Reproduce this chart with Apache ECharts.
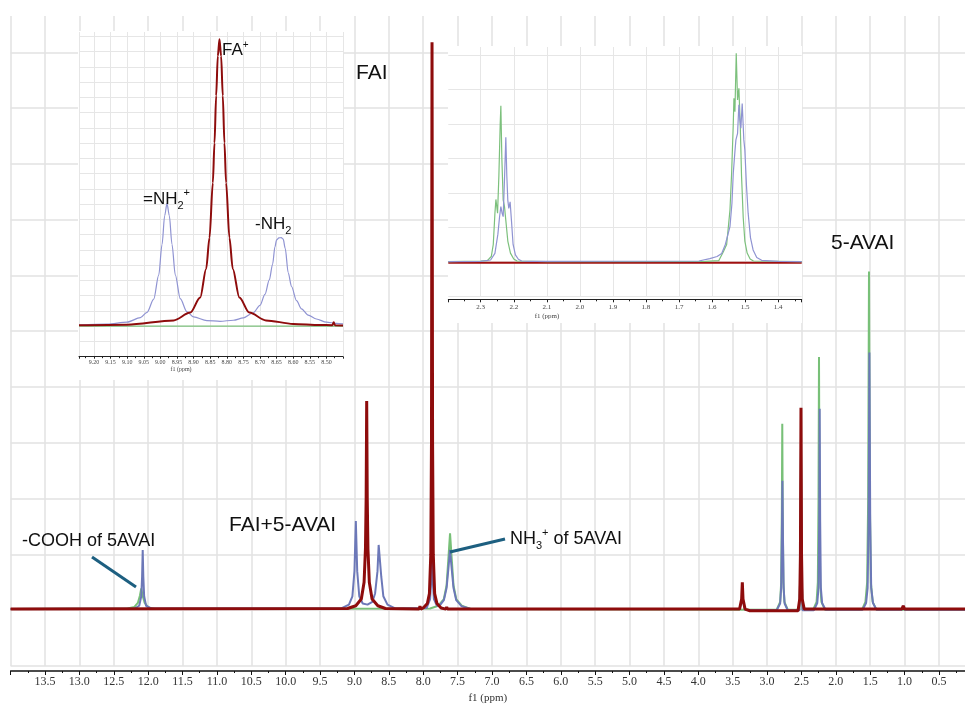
<!DOCTYPE html>
<html>
<head>
<meta charset="utf-8">
<title>1H NMR FAI / 5-AVAI</title>
<script src="https://cdn.jsdelivr.net/npm/echarts/dist/echarts.min.js"></script>
<style>
  html, body { margin: 0; padding: 0; background: #fff; }
  #chart { width: 965px; height: 704px; }
</style>
</head>
<body>
<div id="chart"></div>
<script>
// 主谱图 [ppm, 强度]，强度单位：一格网格 = 10
const mainGreen = [ // 5-AVAI
  [14.0,0.2],[12.30,0.3],[12.20,0.6],[12.15,1.3],[12.12,2.6],[12.10,3.9],[12.08,2.6],[12.05,1.3],[12.00,0.5],[11.90,0.2],
  [7.90,0.3],[7.78,0.8],[7.70,2.0],[7.66,4.5],[7.63,10.0],[7.61,13.8],[7.59,10.0],[7.56,4.5],[7.52,2.0],[7.44,0.8],[7.30,0.2],
  [2.86,0.1],[2.81,1.5],[2.795,5],[2.785,18],[2.779,33.4],[2.773,18],[2.763,5],[2.748,1.5],[2.70,0.1],
  [2.53,0.1],[2.515,8],[2.507,29],[2.499,8],[2.485,0.1],
  [2.33,0.1],[2.28,1.5],[2.262,5],[2.252,20],[2.245,45.4],[2.238,20],[2.228,5],[2.21,1.5],[2.16,0.1],
  [1.62,0.1],[1.57,1.5],[1.545,5],[1.530,20],[1.518,60.7],[1.506,20],[1.491,5],[1.465,1.5],[1.41,0.1],
  [0.12,0.1]
];
const mainBlue = [ // FAI+5-AVAI
  [14.0,0.2],[12.20,0.3],[12.13,0.8],[12.10,2.5],[12.088,6],[12.079,10.8],[12.07,6],[12.058,2.5],[12.03,0.8],[11.95,0.3],
  [9.20,0.3],[9.08,1.0],[9.03,2.5],[9.00,7],[8.98,16],[8.96,7],[8.93,2.5],[8.88,1.2],[8.81,1.0],[8.74,1.5],[8.70,3],
  [8.665,7],[8.648,11.7],[8.632,11.5],[8.61,6],[8.58,2.5],[8.52,1.0],[8.40,0.3],
  [7.95,0.4],[7.90,2],[7.885,5],[7.872,9.6],[7.86,5],[7.845,2],[7.80,0.8],
  [7.75,1.0],[7.70,1.8],[7.66,4],[7.63,8],[7.611,10.8],[7.59,8],[7.56,4],[7.52,1.8],[7.44,0.7],[7.30,0.2],
  [3.40,0.2],[3.37,1.5],[3.36,2.7],[3.35,1.5],[3.32,0.1],
  [2.86,0.0],[2.81,1.2],[2.795,4],[2.785,13],[2.777,23.2],[2.769,13],[2.759,4],[2.745,1.2],[2.70,0.0],
  [2.53,0.0],[2.515,8],[2.507,29],[2.499,8],[2.485,0.0],
  [2.32,0.0],[2.27,1.3],[2.252,4],[2.242,16],[2.235,36.1],[2.228,16],[2.218,4],[2.20,1.3],[2.15,0.1],
  [1.61,0.1],[1.56,1.3],[1.538,4],[1.524,16],[1.512,46.2],[1.500,16],[1.486,4],[1.46,1.3],[1.41,0.1],
  [1.04,0.1],[1.02,0.8],[1.00,0.1],[0.12,0.1]
];
const mainRed = [ // FAI
  [14.0,0.2],[9.10,0.3],[8.98,0.8],[8.90,2],[8.86,5],[8.84,11],[8.83,20],[8.822,37.5],[8.814,20],[8.804,11],[8.784,5],[8.744,2],[8.66,0.8],[8.55,0.3],
  [8.06,0.2],[8.047,0.7],[8.035,0.2],
  [8.00,0.4],[7.94,1.2],[7.91,3],[7.89,10],[7.88,30],[7.872,101.8],[7.864,30],[7.854,10],[7.834,3],[7.80,1.2],[7.74,0.4],
  [7.67,0.2],[7.659,0.6],[7.648,0.2],
  [3.40,0.2],[3.37,2],[3.36,5],[3.35,2],[3.32,0.2],[3.25,-0.1],
  [2.55,-0.1],[2.525,2],[2.515,10],[2.507,36.3],[2.499,10],[2.489,2],[2.46,0.2],
  [1.04,0.2],[1.02,0.8],[1.00,0.2],[0.12,0.2]
];

// 左上插图 8.45-9.25 ppm
const in1Green = [[9.245,0],[8.45,0]];
const in1Blue = [
  [9.245,0.7],[9.16,1.4],[9.10,2.7],[9.06,5.6],[9.04,9.1],[9.02,17.7],[9.005,33.4],[8.995,53.4],[8.987,72.4],[8.980,80.5],
  [8.973,72.4],[8.965,53.6],[8.955,33.6],[8.94,18],[8.92,9.5],[8.90,6.1],[8.86,3.7],[8.82,3.2],[8.78,3.9],[8.75,5.4],
  [8.72,8.8],[8.70,13.7],[8.685,20.8],[8.672,30.3],[8.662,40.6],[8.655,52],[8.650,56.5],[8.643,57.9],[8.636,58],[8.630,57],
  [8.624,51],[8.615,35],[8.605,26],[8.59,16.8],[8.575,11.4],[8.555,7.3],[8.53,4.7],[8.50,2.6],[8.47,1.9],[8.45,1.5]
];
const in1Red = [
  [9.245,0.6],[9.10,1.0],[8.96,3.8],[8.91,8.9],[8.88,18.8],[8.862,37.7],[8.852,58],[8.842,94],[8.837,120],[8.832,151],
  [8.827,177],[8.822,188],[8.817,177],[8.812,151],[8.807,120],[8.802,94],[8.792,58],[8.782,37.7],[8.762,18.8],[8.732,8.9],
  [8.682,3.8],[8.60,1.5],[8.52,0.8],[8.482,0.6],[8.478,2.5],[8.474,0.6],[8.45,0.5]
];

// 右上插图 1.33-2.4 ppm
const in2Green = [
  [2.398,0],[2.30,0.2],[2.28,0.3],[2.268,1.5],[2.262,5],[2.257,14],[2.254,18.1],[2.249,14.1],[2.245,25],[2.241,40],[2.239,45.3],
  [2.236,30],[2.232,18],[2.228,16],[2.224,12],[2.218,6],[2.21,2.5],[2.20,0.8],[2.19,0.2],[2.10,0],
  [1.62,0.1],[1.58,0.3],[1.566,2.9],[1.556,5],[1.546,15],[1.541,25.7],[1.536,40],[1.534,47.5],[1.531,43.6],[1.527,60.6],
  [1.523,47],[1.519,50.4],[1.515,40],[1.511,25],[1.506,13],[1.501,6],[1.494,2.5],[1.485,0.8],[1.475,0.2],[1.329,0]
];
const in2Blue = [
  [2.398,0],[2.30,0.1],[2.27,0.5],[2.257,2.4],[2.248,8],[2.243,13],[2.239,16],[2.235,14],[2.232,13.1],[2.228,24],[2.224,36.2],
  [2.221,25],[2.218,17.9],[2.215,15.5],[2.211,17.4],[2.207,12],[2.202,5],[2.195,2],[2.186,0.7],[2.176,0.2],[2.15,0.1],
  [1.64,0.2],[1.607,0.9],[1.585,1.5],[1.571,2.4],[1.56,5],[1.546,10.2],[1.54,17],[1.536,25.7],[1.531,32],[1.528,35.4],
  [1.523,37.3],[1.519,45.6],[1.516,41.2],[1.513,38.8],[1.509,46],[1.504,35.4],[1.501,32.5],[1.496,22],[1.491,14.1],
  [1.484,7],[1.476,3.4],[1.465,1.2],[1.45,0.4],[1.40,0.1],[1.329,0]
];
const in2Red = [[2.398,-0.3],[1.329,-0.3]];

const RED = '#8e0c0c', BLUE = '#6c78b8', GREEN = '#78c078';
const BLUE_IN = '#8f93d2', GREEN_IN = '#7cc07c';
const GRID_C = '#e2e2e2';
const serif = 'Liberation Serif';
const sans = 'Liberation Sans';

const chart = echarts.init(document.getElementById('chart'));

function lineSeries(name, data, xi, color, width, z, zlevel, smooth) {
  return {
    name: name, type: 'line', xAxisIndex: xi, yAxisIndex: xi, data: data,
    showSymbol: false, smooth: smooth || false, smoothMonotone: 'x',
    lineStyle: { color: color, width: width }, z: z, zlevel: zlevel, silent: true
  };
}

const option = {
  animation: false,
  backgroundColor: '#fff',
  grid: [
    { left: 10.6, right: 0, top: 16, bottom: 38, containLabel: false, outerBoundsMode: 'none' },
    { left: 79, width: 264, top: 32, bottom: 704 - 356.7, containLabel: false, outerBoundsMode: 'none' },
    { left: 448.3, width: 353.4, top: 47, bottom: 704 - 296.1, containLabel: false, outerBoundsMode: 'none' }
  ],
  xAxis: [
    {
      type: 'value', gridIndex: 0, inverse: true, min: 0.122, max: 14, minInterval: 0.5, maxInterval: 0.5, offset: 5,
      name: 'f1 (ppm)', nameLocation: 'middle', nameGap: 22,
      nameTextStyle: { fontFamily: serif, fontSize: 11, color: '#333' },
      axisLine: { onZero: false, lineStyle: { color: '#111', width: 1.5 } },
      axisTick: { length: 4, lineStyle: { color: '#111' } },
      minorTick: { show: true, splitNumber: 2, length: 2, lineStyle: { color: '#111' } },
      axisLabel: { formatter: v => v.toFixed(1), fontFamily: serif, fontSize: 12, color: '#333', margin: 5,
                   showMinLabel: false, showMaxLabel: false },
      splitLine: { show: true, showMinLine: false, lineStyle: { color: GRID_C, width: 1.5 } }
    },
    {
      type: 'value', gridIndex: 1, inverse: true, min: 8.45, max: 9.245, interval: 0.05,
      zlevel: 1, z: 1,
      axisLine: { onZero: false, lineStyle: { color: '#222', width: 1 } },
      axisTick: { length: 2, lineStyle: { color: '#222' } },
      minorTick: { show: true, splitNumber: 2, length: 1.5, lineStyle: { color: '#222' } },
      axisLabel: { formatter: v => v.toFixed(2), fontFamily: serif, fontSize: 6, color: '#444', margin: 3,
                   showMinLabel: false, showMaxLabel: false },
      splitLine: { show: true, lineStyle: { color: '#e6e6e6', width: 1 } }
    },
    {
      type: 'value', gridIndex: 2, inverse: true, min: 1.329, max: 2.398, minInterval: 0.1, maxInterval: 0.1, offset: 3.2,
      zlevel: 1, z: 1,
      axisLine: { onZero: false, lineStyle: { color: '#222', width: 1 } },
      axisTick: { length: 3, lineStyle: { color: '#222' } },
      minorTick: { show: true, splitNumber: 2, length: 2, lineStyle: { color: '#222' } },
      axisLabel: { formatter: v => v.toFixed(1), fontFamily: serif, fontSize: 7, color: '#444', margin: 4,
                   showMinLabel: false, showMaxLabel: false },
      splitLine: { show: true, showMinLine: false, showMaxLine: false, lineStyle: { color: '#e6e6e6', width: 1 } }
    }
  ],
  yAxis: [
    {
      type: 'value', gridIndex: 0, min: -10, max: 106.5, interval: 10,
      axisLine: { show: false }, axisTick: { show: false }, axisLabel: { show: false },
      splitLine: { show: true, showMaxLine: false, lineStyle: { color: GRID_C, width: 1.5 } }
    },
    {
      type: 'value', gridIndex: 1, min: -20, max: 192.8, interval: 10, zlevel: 1, z: 1,
      axisLine: { show: false }, axisTick: { show: false }, axisLabel: { show: false },
      splitLine: { show: true, showMaxLine: false, lineStyle: { color: '#e6e6e6', width: 1 } }
    },
    {
      type: 'value', gridIndex: 2, min: -10, max: 62.4, interval: 10, zlevel: 1, z: 1,
      axisLine: { show: false }, axisTick: { show: false }, axisLabel: { show: false },
      splitLine: { show: true, showMaxLine: false, lineStyle: { color: '#e6e6e6', width: 1 } }
    }
  ],
  series: [
    lineSeries('5-AVAI', mainGreen, 0, GREEN, 2, 2, 0),
    lineSeries('FAI+5-AVAI', mainBlue, 0, BLUE, 2, 3, 0),
    lineSeries('FAI', mainRed, 0, RED, 3, 4, 0),
    lineSeries('5-AVAI', in1Green, 1, GREEN_IN, 1.2, 2, 1, 0.3),
    lineSeries('FAI+5-AVAI', in1Blue, 1, BLUE_IN, 1.2, 3, 1, 0.3),
    lineSeries('FAI', in1Red, 1, RED, 2, 4, 1, 0.3),
    lineSeries('FAI', in2Red, 2, '#a01010', 2, 2, 1),
    lineSeries('5-AVAI', in2Green, 2, GREEN_IN, 1.2, 3, 1),
    lineSeries('FAI+5-AVAI', in2Blue, 2, BLUE_IN, 1.2, 4, 1)
  ],
  graphic: [
    // 插图白底
    { type: 'rect', zlevel: 1, z: 0, silent: true, shape: { x: 78, y: 31, width: 266, height: 349 }, style: { fill: '#fff' } },
    { type: 'rect', zlevel: 1, z: 0, silent: true, shape: { x: 448, y: 46, width: 354, height: 277 }, style: { fill: '#fff' } },
    { type: 'text', zlevel: 2, x: 181, y: 369, style: { text: 'f1 (ppm)', font: '6px "Liberation Serif"', fill: '#444', textAlign: 'center', textVerticalAlign: 'middle' } },
    { type: 'text', zlevel: 2, x: 547, y: 316, style: { text: 'f1 (ppm)', font: '7px "Liberation Serif"', fill: '#444', textAlign: 'center', textVerticalAlign: 'middle' } },
    // 插图标注
    { type: 'text', zlevel: 2, x: 222, y: 40, style: { text: 'FA{sup|+}', rich: { sup: { fontSize: 10, verticalAlign: 'top', lineHeight: 20, fontFamily: sans } }, fontSize: 17, fontFamily: sans, lineHeight: 20, fill: '#111' } },
    { type: 'text', zlevel: 2, x: 143, y: 187, style: { text: '=NH{sub|2}{sup|+}', rich: { sub: { fontSize: 11, verticalAlign: 'bottom', lineHeight: 24, fontFamily: sans }, sup: { fontSize: 11, verticalAlign: 'top', lineHeight: 20, fontFamily: sans } }, fontSize: 17, fontFamily: sans, lineHeight: 20, fill: '#111' } },
    { type: 'text', zlevel: 2, x: 255, y: 212, style: { text: '-NH{sub|2}', rich: { sub: { fontSize: 11, verticalAlign: 'bottom', lineHeight: 24, fontFamily: sans } }, fontSize: 17, fontFamily: sans, lineHeight: 20, fill: '#111' } },
    // 主图标注
    { type: 'text', zlevel: 2, x: 356, y: 73, style: { text: 'FAI', font: '21px "Liberation Sans"', fill: '#111', textVerticalAlign: 'middle' } },
    { type: 'text', zlevel: 2, x: 831, y: 243, style: { text: '5-AVAI', font: '21px "Liberation Sans"', fill: '#111', textVerticalAlign: 'middle' } },
    { type: 'text', zlevel: 2, x: 229, y: 525, style: { text: 'FAI+5-AVAI', font: '21px "Liberation Sans"', fill: '#111', textVerticalAlign: 'middle' } },
    { type: 'text', zlevel: 2, x: 22, y: 541, style: { text: '-COOH of 5AVAI', font: '18px "Liberation Sans"', fill: '#111', textVerticalAlign: 'middle' } },
    { type: 'text', zlevel: 2, x: 510, y: 527, style: { text: 'NH{sub|3}{sup|+} of 5AVAI', rich: { sub: { fontSize: 11, verticalAlign: 'bottom', lineHeight: 24, fontFamily: sans }, sup: { fontSize: 11, verticalAlign: 'top', lineHeight: 20, fontFamily: sans } }, fontSize: 18, fontFamily: sans, lineHeight: 20, fill: '#111' } },
    { type: 'line', zlevel: 2, shape: { x1: 92, y1: 557, x2: 136, y2: 587 }, style: { stroke: '#1d5f80', lineWidth: 3 } },
    { type: 'line', zlevel: 2, shape: { x1: 505, y1: 539, x2: 450, y2: 552 }, style: { stroke: '#1d5f80', lineWidth: 3 } }
  ]
};

chart.setOption(option);
</script>
</body>
</html>
